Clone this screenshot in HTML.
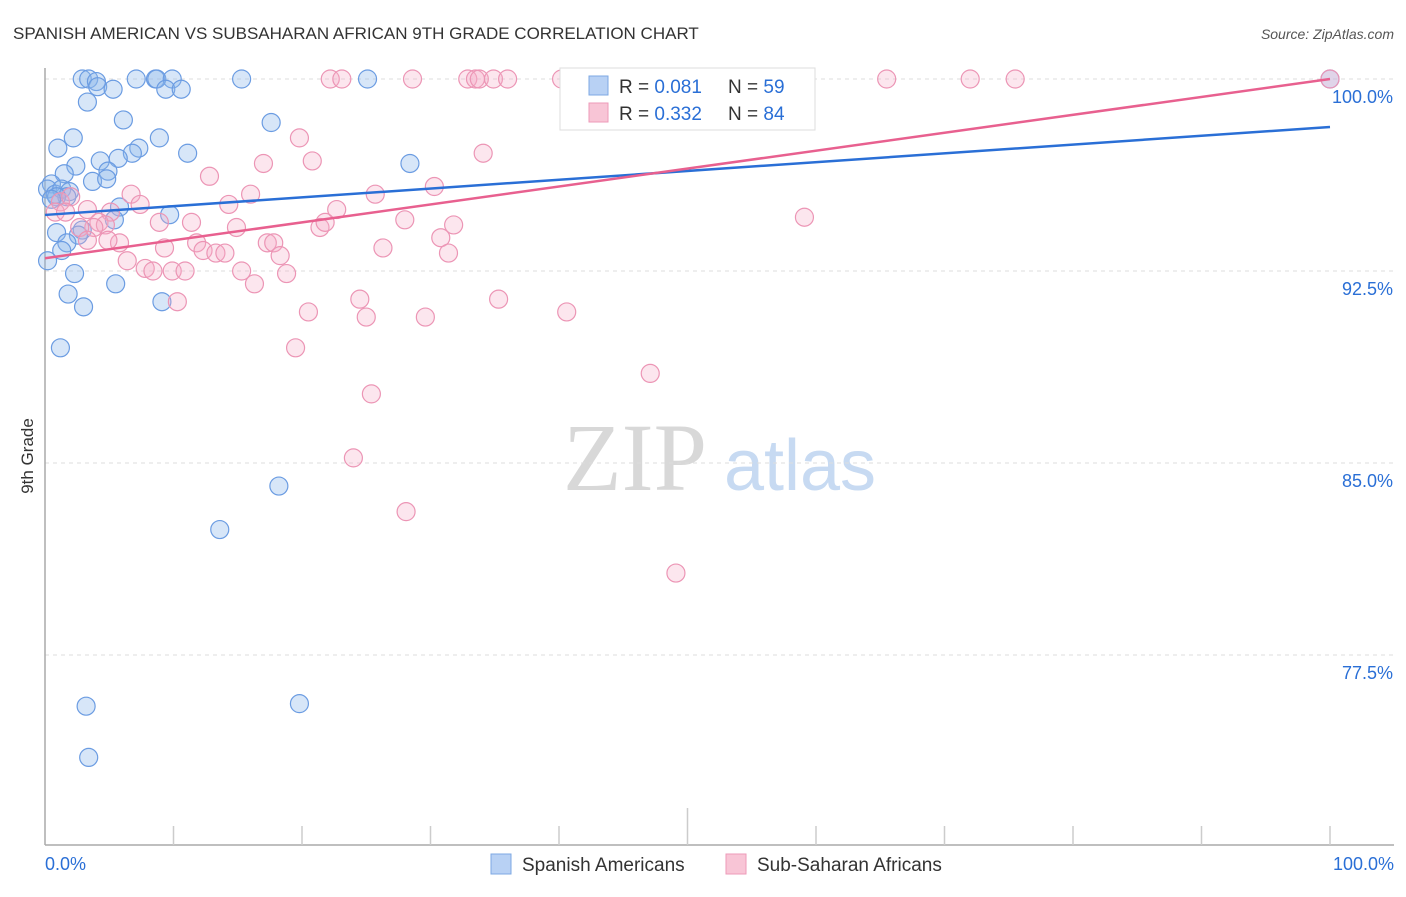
<!DOCTYPE html>
<html><head><meta charset="utf-8"><style>
body{margin:0;background:#fff;font-family:"Liberation Sans",sans-serif}
</style></head><body>
<svg id="chart" width="1406" height="892" xmlns="http://www.w3.org/2000/svg" font-family="Liberation Sans, sans-serif">
<text x="13" y="39" font-size="17" fill="#333">SPANISH AMERICAN VS SUBSAHARAN AFRICAN 9TH GRADE CORRELATION CHART</text>
<text x="1394" y="39" font-size="14" fill="#555" text-anchor="end" font-style="italic">Source: ZipAtlas.com</text>
<text transform="translate(33,456) rotate(-90)" font-size="17" fill="#333" text-anchor="middle">9th Grade</text>
<g>
<text x="635" y="490" font-size="96" fill="#d8d8d8" text-anchor="middle" font-family="Liberation Serif, serif">ZIP</text>
<text x="800" y="490" font-size="72" fill="#c7daf2" text-anchor="middle">atlas</text>
</g>
<g id="grid"></g>
<g id="axes"></g>
<g id="pts"></g>
<g id="lines"></g>
<g>
<rect x="560" y="68" width="255" height="62" fill="#fff" stroke="#ddd"/>
<rect x="589" y="76" width="19" height="19" fill="#b8d1f4" stroke="#7ea8e3"/>
<text x="619" y="93" font-size="19" fill="#333">R = <tspan fill="#2a6fd6">0.081</tspan></text>
<text x="728" y="93" font-size="19" fill="#333">N = <tspan fill="#2a6fd6">59</tspan></text>
<rect x="589" y="103" width="19" height="19" fill="#f8c5d6" stroke="#ee9ab8"/>
<text x="619" y="120" font-size="19" fill="#333">R = <tspan fill="#2a6fd6">0.332</tspan></text>
<text x="728" y="120" font-size="19" fill="#333">N = <tspan fill="#2a6fd6">84</tspan></text>
</g>
<g>
<rect x="491" y="854" width="20" height="20" fill="#b8d1f4" stroke="#7ea8e3"/>
<text x="522" y="871" font-size="19" fill="#333">Spanish Americans</text>
<rect x="726" y="854" width="20" height="20" fill="#f8c5d6" stroke="#ee9ab8"/>
<text x="757" y="871" font-size="19" fill="#333">Sub-Saharan Africans</text>
</g>
</svg>
<script>
const yTicks=[100,92.5,85,77.5];
const yTickLabels=["100.0%","92.5%","85.0%","77.5%"];
const xTickLabels=["0.0%","100.0%"];
const blueX=[2.9,3.4,4.0,4.1,5.3,3.3,7.1,8.6,8.7,9.9,9.4,10.6,15.3,25.1,100,6.1,2.2,8.9,1.0,7.3,6.8,11.1,4.3,5.7,2.4,4.9,1.5,3.7,4.8,28.4,17.6,0.5,0.2,0.8,1.3,1.9,1.7,5.8,5.4,9.7,0.9,2.9,2.6,1.7,1.3,0.2,2.3,5.5,1.8,9.1,3.0,1.2,18.2,13.6,3.2,19.8,3.4,0.9,0.5];
const blueY=[100,100,99.9,99.7,99.6,99.1,100,100,100,100,99.6,99.6,100,100,100,98.4,97.7,97.7,97.3,97.3,97.1,97.1,96.8,96.9,96.6,96.4,96.3,96.0,96.1,96.7,98.3,95.9,95.7,95.5,95.7,95.6,95.4,95.0,94.5,94.7,94.0,94.1,93.9,93.6,93.3,92.9,92.4,92.0,91.6,91.3,91.1,89.5,84.1,82.4,75.5,75.6,73.5,95.4,95.3];
const pinkX=[22.2,23.1,28.6,32.9,33.5,33.8,34.9,36.0,40.2,42.2,46.1,52.4,65.5,72.0,75.5,100,41.6,19.8,20.8,34.1,17.0,12.8,25.7,30.3,6.7,16.0,7.4,14.3,22.7,3.3,1.2,2.0,0.8,1.6,5.1,8.9,11.4,4.2,4.7,3.8,2.7,21.4,21.8,28.0,31.8,59.1,14.9,5.8,9.3,11.8,12.3,13.3,14.0,17.3,17.8,18.3,30.8,31.4,26.3,6.4,7.8,8.4,9.9,10.9,15.3,16.3,18.8,10.3,20.5,24.5,25.0,29.6,35.3,40.6,19.5,47.1,25.4,24.0,28.1,49.1,3.3,4.9];
const pinkY=[100,100,100,100,100,100,100,100,100,100,100,100,100,100,100,100,99.1,97.7,96.8,97.1,96.7,96.2,95.5,95.8,95.5,95.5,95.1,95.1,94.9,94.9,95.2,95.4,94.8,94.8,94.8,94.4,94.4,94.4,94.3,94.2,94.2,94.2,94.4,94.5,94.3,94.6,94.2,93.6,93.4,93.6,93.3,93.2,93.2,93.6,93.6,93.1,93.8,93.2,93.4,92.9,92.6,92.5,92.5,92.5,92.5,92.0,92.4,91.3,90.9,91.4,90.7,90.7,91.4,90.9,89.5,88.5,87.7,85.2,83.1,80.7,93.7,93.7];
const blueTrend=[94.69,98.125];
const pinkTrend=[93.0,100];
const NS="http://www.w3.org/2000/svg";
const X0=45,X1=1330;
function sx(v){return X0+(v/100)*(X1-X0);}
function sy(v){return 79+(100-v)*25.6;}
function mk(tag,attrs,parent){const e=document.createElementNS(NS,tag);for(const k in attrs)e.setAttribute(k,attrs[k]);document.getElementById(parent).appendChild(e);return e;}
yTicks.forEach((t,i)=>{
  const l=mk('line',{x1:X0,x2:1394,y1:sy(t),y2:sy(t),stroke:'#ddd','stroke-dasharray':'4,4'},'grid');
  
  
  const tx=mk('text',{x:1393,y:sy(t)+24,'font-size':18,fill:'#2a6fd6','text-anchor':'end'},'grid');
  tx.textContent=yTickLabels[i];
  
  
});
let a=mk('line',{x1:X0,x2:X0,y1:68,y2:845,stroke:'#aaa','stroke-width':1.5},'axes');


a=mk('line',{x1:X0,x2:1394,y1:845,y2:845,stroke:'#aaa','stroke-width':1.5},'axes');


for(let i=1;i<=10;i++){
  const t=mk('line',{x1:sx(i*10),x2:sx(i*10),y1:i==5?808:826,y2:845,stroke:'#ccc','stroke-width':1.5},'axes');
  
  
}
[[0,'start',45],[100,'end',1394]].forEach((p,i)=>{
  const t=mk('text',{x:p[2],y:870,'font-size':18,fill:'#2a6fd6','text-anchor':p[1]},'axes');
  t.textContent=xTickLabels[i];
  
  
});
blueX.forEach((x,i)=>{
  const c=mk('circle',{cx:sx(x),cy:sy(blueY[i]),r:9,fill:'rgba(140,182,236,0.35)',stroke:'#6b9ce2','stroke-width':1.2},'pts');
  
  
});
pinkX.forEach((x,i)=>{
  const c=mk('circle',{cx:sx(x),cy:sy(pinkY[i]),r:9,fill:'rgba(246,172,198,0.3)',stroke:'#ec95b5','stroke-width':1.2},'pts');
  
  
});
let ln=mk('line',{x1:sx(0),x2:sx(100),y1:sy(blueTrend[0]),y2:sy(blueTrend[1]),stroke:'#2a6fd6','stroke-width':2.5},'lines');


ln=mk('line',{x1:sx(0),x2:sx(100),y1:sy(pinkTrend[0]),y2:sy(pinkTrend[1]),stroke:'#e8608f','stroke-width':2.5},'lines');


</script>
</body></html>
